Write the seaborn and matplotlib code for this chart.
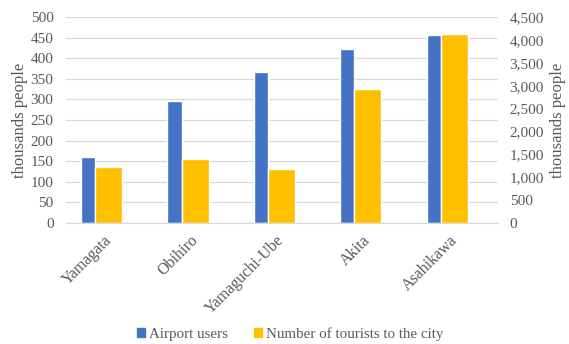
import numpy as np
import pandas as pd
import matplotlib
matplotlib.use("Agg")
import matplotlib.pyplot as plt
import seaborn as sns
from matplotlib.patches import Patch

# Data (thousands of people)
airports = ["Yamagata", "Obihiro", "Yamaguchi-Ube", "Akita", "Asahikawa"]
airport_users = [160, 296, 366, 423, 458]
tourists = [1210, 1390, 1180, 2920, 4125]

series_names = ["Airport users", "Number of tourists to the city"]
colors = ["#4472C4", "#FFC000"]
text_color = "#595959"
grid_color = "#D9D9D9"
serif = ["Liberation Serif", "DejaVu Serif"]

sns.set_theme(style="white")
plt.rcParams["font.family"] = serif

pos = np.arange(len(airports))
df_users = pd.DataFrame({"pos": pos - 0.243, "value": airport_users})
df_tour = pd.DataFrame({"pos": pos - 0.005, "value": tourists})

fig = plt.figure(figsize=(5.69, 3.44), dpi=100)
ax = fig.add_axes([0.116, 0.3526, 0.759, 0.5971])
ax2 = ax.twinx()

sns.barplot(data=df_users, x="pos", y="value", native_scale=True, width=0.165,
            color=colors[0], saturation=1, ax=ax, zorder=2)
sns.barplot(data=df_tour, x="pos", y="value", native_scale=True, width=0.31,
            color=colors[1], saturation=1, ax=ax2, zorder=2)

ax.set_xlim(-0.5, len(airports) - 0.5)
ax.set_ylim(0, 500)
ax2.set_ylim(0, 4500)
ax.set_yticks(np.arange(0, 501, 50))
ax2.set_yticks(np.arange(0, 4501, 500))
ax2.set_yticklabels([f"{v:,}" for v in range(0, 4501, 500)])

ax.set_xticks(pos)
ax.set_xticklabels(airports, rotation=45, ha="right", va="center",
                   rotation_mode="anchor")
ax.grid(axis="y", color=grid_color, linewidth=0.9, zorder=0)
ax.set_axisbelow(True)

for a in (ax, ax2):
    for s in ("top", "left", "right"):
        a.spines[s].set_visible(False)
    a.spines["bottom"].set_color(grid_color)
    a.spines["bottom"].set_linewidth(0.9)
    a.set_xlabel("")
    a.tick_params(length=0, colors=text_color, labelsize=11)

for lbl in ax.get_xticklabels():
    lbl.set_fontsize(11.5)

ax.tick_params(axis="y", pad=9)
ax.tick_params(axis="x", pad=11)
ax2.tick_params(axis="y", pad=8.5)
ax2.spines["bottom"].set_visible(False)

ax.set_ylabel("thousands people", fontsize=12, color=text_color, labelpad=2)
ax2.set_ylabel("thousands people", fontsize=12, color=text_color, labelpad=4,
               rotation=90)

handles = [Patch(facecolor=c, edgecolor=c) for c in colors]
fig.legend(handles, series_names, loc="center", bbox_to_anchor=(0.51, 0.03),
           ncol=2, frameon=False, prop={"family": serif, "size": 10.8},
           handlelength=0.55, handleheight=0.55, handletextpad=0.3,
           columnspacing=1.7, labelcolor=text_color)

fig.savefig("out.png", dpi=100)
